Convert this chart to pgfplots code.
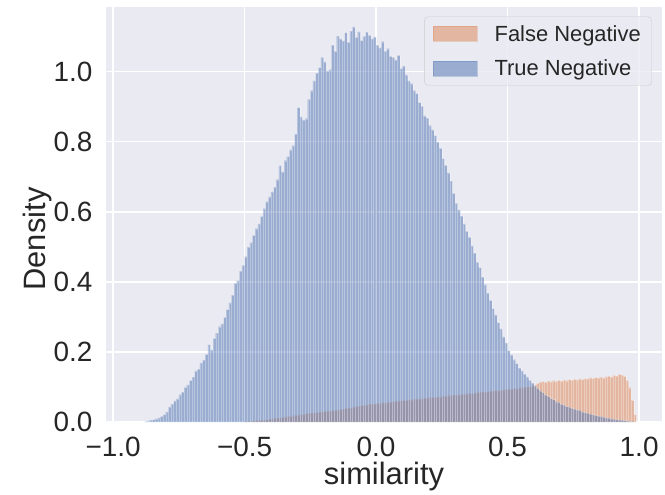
\documentclass[border=0pt]{standalone}
\usepackage{fontspec}
\setmainfont{Liberation Sans}
\usepackage{pgfplots}
\pgfplotsset{compat=1.18}
\usepackage{pgfplotstable}
\definecolor{bgc}{HTML}{EAEAF2}
\definecolor{tn}{HTML}{4C72B0}
\definecolor{fn}{HTML}{DD8452}
\definecolor{txt}{HTML}{262626}
\definecolor{legedge}{HTML}{CCCCCC}

\pgfplotstableread{
x y
-0.88 0.001
-0.87 0.003
-0.86 0.005
-0.85 0.007
-0.84 0.009
-0.83 0.012
-0.82 0.016
-0.81 0.021
-0.80 0.029
-0.79 0.043
-0.78 0.051
-0.77 0.060
-0.76 0.066
-0.75 0.078
-0.74 0.085
-0.73 0.099
-0.72 0.106
-0.71 0.119
-0.70 0.128
-0.69 0.146
-0.68 0.151
-0.67 0.169
-0.66 0.177
-0.65 0.193
-0.64 0.221
-0.63 0.206
-0.62 0.239
-0.61 0.254
-0.60 0.272
-0.59 0.280
-0.58 0.299
-0.57 0.321
-0.56 0.340
-0.55 0.362
-0.54 0.396
-0.53 0.404
-0.52 0.431
-0.51 0.447
-0.50 0.472
-0.49 0.499
-0.48 0.512
-0.47 0.533
-0.46 0.552
-0.45 0.566
-0.44 0.587
-0.43 0.609
-0.42 0.629
-0.41 0.643
-0.40 0.657
-0.39 0.671
-0.38 0.692
-0.37 0.732
-0.36 0.714
-0.35 0.746
-0.34 0.758
-0.33 0.777
-0.32 0.789
-0.31 0.822
-0.30 0.898
-0.29 0.871
-0.28 0.862
-0.27 0.866
-0.26 0.921
-0.25 0.946
-0.24 0.974
-0.23 0.996
-0.22 1.012
-0.21 1.041
-0.20 1.028
-0.19 1.002
-0.18 1.006
-0.17 1.076
-0.16 1.058
-0.15 1.102
-0.14 1.094
-0.13 1.088
-0.12 1.112
-0.11 1.084
-0.10 1.116
-0.09 1.128
-0.08 1.098
-0.07 1.114
-0.06 1.089
-0.05 1.101
-0.04 1.113
-0.03 1.104
-0.02 1.094
-0.01 1.099
0.00 1.076
0.01 1.068
0.02 1.086
0.03 1.058
0.04 1.066
0.05 1.044
0.06 1.041
0.07 1.033
0.08 1.047
0.09 1.009
0.10 1.016
0.11 0.991
0.12 0.974
0.13 0.966
0.14 0.946
0.15 0.938
0.16 0.912
0.17 0.901
0.18 0.874
0.19 0.868
0.20 0.846
0.21 0.834
0.22 0.818
0.23 0.799
0.24 0.781
0.25 0.752
0.26 0.733
0.27 0.711
0.28 0.688
0.29 0.653
0.30 0.624
0.31 0.606
0.32 0.588
0.33 0.566
0.34 0.544
0.35 0.527
0.36 0.503
0.37 0.482
0.38 0.456
0.39 0.441
0.40 0.414
0.41 0.392
0.42 0.368
0.43 0.347
0.44 0.324
0.45 0.306
0.46 0.284
0.47 0.266
0.48 0.243
0.49 0.226
0.50 0.204
0.51 0.192
0.52 0.178
0.53 0.167
0.54 0.154
0.55 0.146
0.56 0.137
0.57 0.129
0.58 0.119
0.59 0.111
0.60 0.103
0.61 0.096
0.62 0.089
0.63 0.084
0.64 0.077
0.65 0.073
0.66 0.067
0.67 0.064
0.68 0.058
0.69 0.056
0.70 0.050
0.71 0.048
0.72 0.044
0.73 0.043
0.74 0.039
0.75 0.037
0.76 0.034
0.77 0.033
0.78 0.029
0.79 0.027
0.80 0.025
0.81 0.023
0.82 0.021
0.83 0.019
0.84 0.017
0.85 0.016
0.86 0.014
0.87 0.012
0.88 0.011
0.89 0.009
0.90 0.008
0.91 0.007
0.92 0.006
0.93 0.005
0.94 0.004
0.95 0.003
0.96 0.002
0.97 0.001
0.98 0.000
0.99 0
}\tndata

\pgfplotstableread{
x y
-0.50 0.001
-0.49 0.002
-0.48 0.002
-0.47 0.003
-0.46 0.004
-0.45 0.005
-0.44 0.005
-0.43 0.006
-0.42 0.007
-0.41 0.008
-0.40 0.009
-0.39 0.010
-0.38 0.011
-0.37 0.012
-0.36 0.013
-0.35 0.014
-0.34 0.016
-0.33 0.016
-0.32 0.018
-0.31 0.019
-0.30 0.020
-0.29 0.022
-0.28 0.022
-0.27 0.024
-0.26 0.025
-0.25 0.025
-0.24 0.027
-0.23 0.027
-0.22 0.029
-0.21 0.029
-0.20 0.030
-0.19 0.031
-0.18 0.031
-0.17 0.033
-0.16 0.033
-0.15 0.035
-0.14 0.036
-0.13 0.037
-0.12 0.039
-0.11 0.040
-0.10 0.041
-0.09 0.043
-0.08 0.044
-0.07 0.045
-0.06 0.047
-0.05 0.048
-0.04 0.049
-0.03 0.051
-0.02 0.050
-0.01 0.052
0.00 0.053
0.01 0.053
0.02 0.055
0.03 0.054
0.04 0.056
0.05 0.057
0.06 0.058
0.07 0.059
0.08 0.060
0.09 0.061
0.10 0.061
0.11 0.062
0.12 0.064
0.13 0.063
0.14 0.065
0.15 0.066
0.16 0.066
0.17 0.067
0.18 0.068
0.19 0.069
0.20 0.070
0.21 0.070
0.22 0.071
0.23 0.072
0.24 0.072
0.25 0.074
0.26 0.074
0.27 0.075
0.28 0.076
0.29 0.077
0.30 0.077
0.31 0.078
0.32 0.079
0.33 0.080
0.34 0.080
0.35 0.082
0.36 0.081
0.37 0.083
0.38 0.084
0.39 0.085
0.40 0.085
0.41 0.087
0.42 0.086
0.43 0.088
0.44 0.089
0.45 0.090
0.46 0.089
0.47 0.091
0.48 0.092
0.49 0.093
0.50 0.094
0.51 0.094
0.52 0.096
0.53 0.095
0.54 0.097
0.55 0.098
0.56 0.099
0.57 0.100
0.58 0.101
0.59 0.103
0.60 0.106
0.61 0.110
0.62 0.114
0.63 0.116
0.64 0.113
0.65 0.117
0.66 0.115
0.67 0.118
0.68 0.116
0.69 0.119
0.70 0.117
0.71 0.120
0.72 0.118
0.73 0.121
0.74 0.119
0.75 0.122
0.76 0.120
0.77 0.123
0.78 0.121
0.79 0.124
0.80 0.123
0.81 0.126
0.82 0.124
0.83 0.127
0.84 0.125
0.85 0.128
0.86 0.126
0.87 0.129
0.88 0.131
0.89 0.128
0.90 0.133
0.91 0.131
0.92 0.136
0.93 0.134
0.94 0.130
0.95 0.118
0.96 0.098
0.97 0.062
0.98 0.021
0.99 0
}\fndata

\begin{document}
\begin{tikzpicture}
\begin{axis}[
  scale only axis,
  width=556bp, height=415bp,
  xmin=-1.027, xmax=1.087, ymin=0, ymax=1.185,
  axis background/.style={fill=bgc},
  axis line style={draw=none},
  major tick length=0pt,
  grid=major,
  major grid style={white, line width=1.3bp},
  xtick={-1,-0.5,0,0.5,1},
  xticklabels={−1.0,−0.5,0.0,0.5,1.0},
  ytick={0,0.2,0.4,0.6,0.8,1.0},
  yticklabels={0.0,0.2,0.4,0.6,0.8,1.0},
  xticklabel style={font=\fontsize{28}{32}\selectfont, text=txt, anchor=north, inner sep=0pt, yshift=-15bp},
  yticklabel style={font=\fontsize{28}{32}\selectfont, text=txt, anchor=east, inner sep=0pt, xshift=-13.5bp},
  xlabel={similarity},
  ylabel={Density},
  xlabel style={font=\fontsize{31}{36}\selectfont, text=txt, inner sep=0pt, at={(axis description cs:0.5,-0.131)}, anchor=center},
  ylabel style={font=\fontsize{31}{36}\selectfont, text=txt, inner sep=0pt, at={(axis description cs:-0.124,0.441)}, anchor=center},
  legend style={at={(0.982,0.977)}, anchor=north east, draw=legedge, fill=bgc, fill opacity=0.8, text opacity=1,
    rounded corners=4bp, font=\fontsize{22}{26}\selectfont, text=txt, inner xsep=9bp, inner ysep=6.5bp,
    row sep=13bp,
    /tikz/every odd column/.append style={column sep=15bp}},
  legend cell align=left,
]
\addplot[ybar interval, fill=fn, fill opacity=0.5, draw=white, draw opacity=0.3, line width=0.3bp,
  legend image code/.code={\fill[fn, fill opacity=0.5, sharp corners] (0bp,-7.5bp) rectangle (44bp,7.5bp);}]
  table[x=x, y=y] {\fndata};
\addlegendentry{False Negative}
\addplot[ybar interval, fill=tn, fill opacity=0.5, draw=white, draw opacity=0.3, line width=0.3bp,
  legend image code/.code={\fill[tn, fill opacity=0.5, sharp corners] (0bp,-7.5bp) rectangle (44bp,7.5bp);}]
  table[x=x, y=y] {\tndata};
\addlegendentry{True Negative}
\end{axis}
\pgfresetboundingbox
\path (current axis.south west) ++(-106bp,-73bp) rectangle ++(665bp,495bp);
\end{tikzpicture}
\end{document}
